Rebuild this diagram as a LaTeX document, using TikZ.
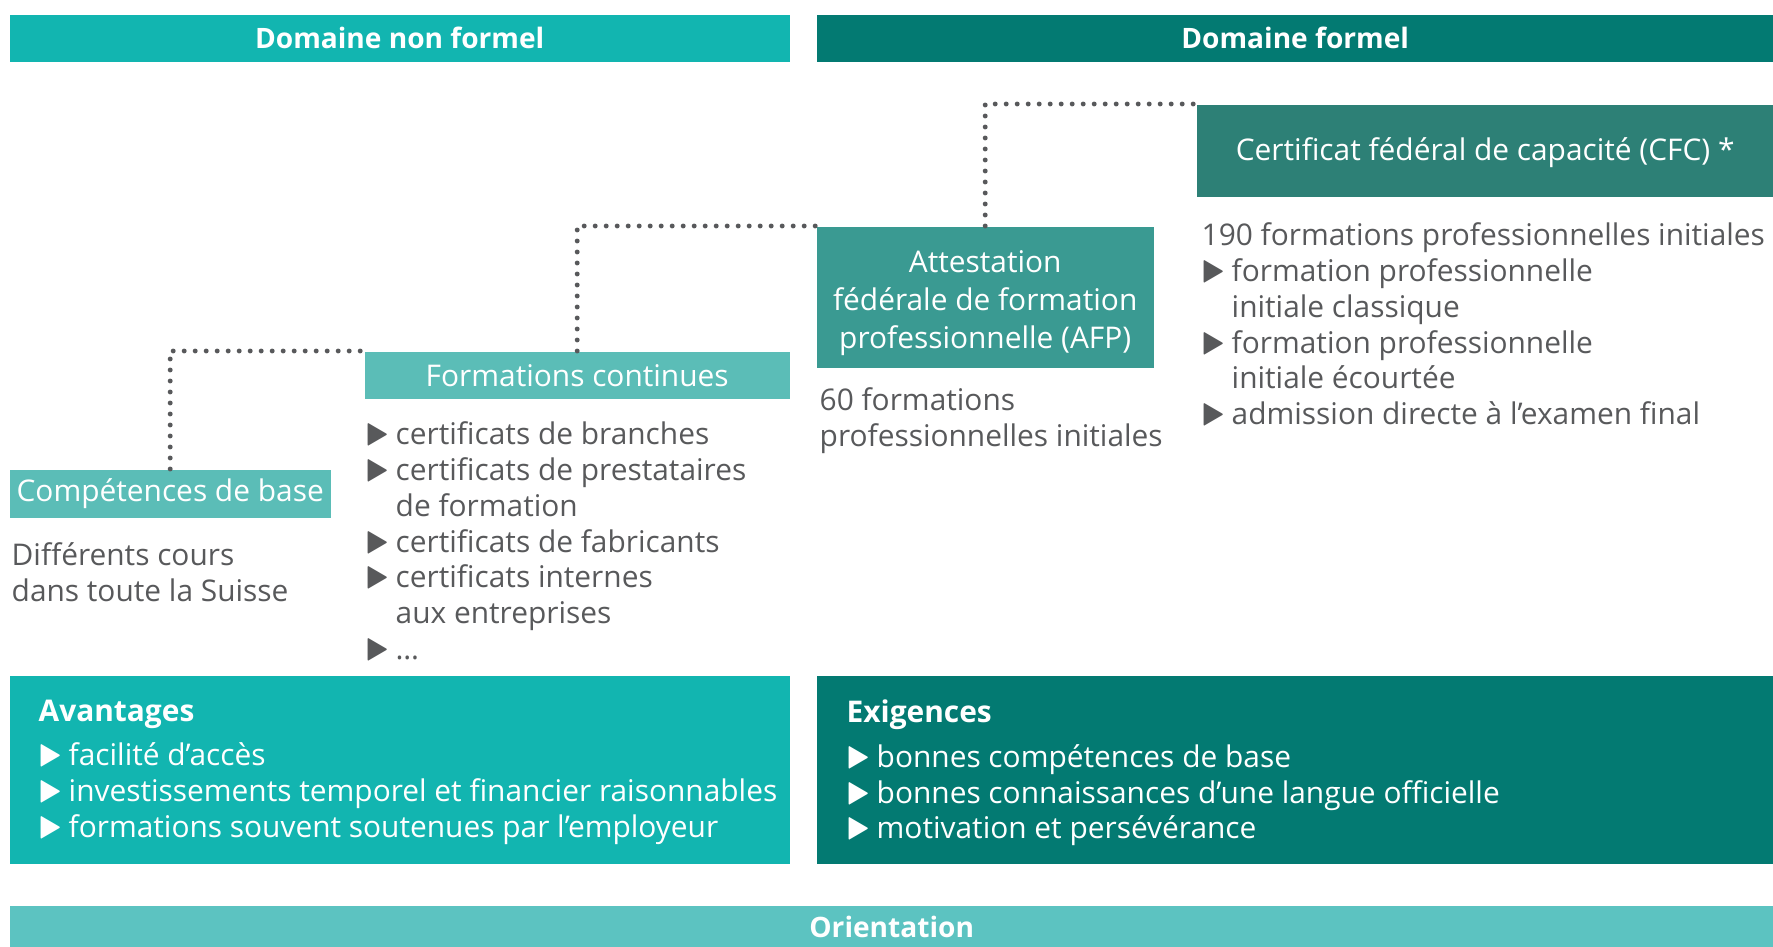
\documentclass[tikz,border=0pt]{standalone}
\usepackage{amssymb}
\usepackage{fontspec}
\setmainfont{Open Sans}
\usetikzlibrary{positioning}

\definecolor{lagoon}{RGB}{18,181,176}
\definecolor{petrol}{RGB}{3,122,114}
\definecolor{cfcgreen}{RGB}{45,128,118}
\definecolor{afpgreen}{RGB}{58,154,146}
\definecolor{mint}{RGB}{91,189,183}
\definecolor{orient}{RGB}{92,195,193}
\definecolor{bodygray}{RGB}{88,89,91}

\newcommand{\puce}{\makebox[3mm][l]{\scalebox{1.05}[1.3]{$\blacktriangleright$}}}
\newcommand{\suite}{\hspace*{3mm}}

\begin{document}
\begin{tikzpicture}[
  x=0.1mm, y=-0.1mm,
  txt/.style={font=\fontsize{8.5pt}{10.2pt}\selectfont},
  bold/.style={font=\fontsize{8pt}{10.2pt}\selectfont\bfseries},
  band/.style={
    rectangle, inner sep=0, anchor=north west,
    text=white, bold,
    minimum height=4.7mm
  },
  panel/.style={
    rectangle, inner sep=0, anchor=north west,
    text=white, txt, align=center
  },
  infobox/.style={
    rectangle, inner sep=0, anchor=north west,
    minimum height=18.8mm
  },
  plain/.style={
    inner sep=0, anchor=north west,
    text=bodygray, txt, align=left
  },
  dotlink/.style={
    draw=bodygray, line width=1.4pt, line cap=round,
    dash pattern=on 0pt off 1.1mm
  }
]

\useasboundingbox (0,0) rectangle (1773,947);

% =====================================================
% DOMAINS
% =====================================================

\node[band, fill=lagoon, minimum width=78mm] (nonformel) at (9,14)
{Domaine non formel};

\node[band, fill=petrol, minimum width=95.7mm] (formel) at (816,14)
{Domaine formel};

% =====================================================
% QUALIFICATIONS
% =====================================================

\node[panel, fill=cfcgreen, minimum width=57.7mm, minimum height=9.2mm] (cfc) at (1196,104)
{\rule{0pt}{2.6mm}Certificat fédéral de capacité (CFC) *};

\node[panel, fill=afpgreen, minimum width=33.7mm, minimum height=14.1mm,
      font=\fontsize{8.5pt}{10.8pt}\selectfont] (afp) at (816,226)
{\rule{0pt}{3.4mm}Attestation\\fédérale de formation\\professionnelle (AFP)};

\node[panel, fill=mint, minimum width=42.5mm, minimum height=4.7mm] (fc) at (364,351)
{Formations continues};

\node[panel, fill=mint, minimum width=32.1mm, minimum height=4.8mm] (cb) at (9,469)
{Compétences de base};

% dotted steps
\draw[dotlink] (cb.north) |- (fc.north west);
\draw[dotlink] (fc.north) |- (afp.north west);
\draw[dotlink] (afp.north) |- (cfc.north west);

% =====================================================
% DETAILS
% =====================================================

\node[plain] (cfcinfo) at (1201,222)
{190 formations professionnelles initiales\\
\puce formation professionnelle\\
\suite initiale classique\\
\puce formation professionnelle\\
\suite initiale écourtée\\
\puce admission directe à l’examen final};

\node[plain] (afpinfo) at (819,387)
{60 formations\\professionnelles initiales};

\node[plain] (fcinfo) at (365,421)
{\puce certificats de branches\\
\puce certificats de prestataires\\
\suite de formation\\
\puce certificats de fabricants\\
\puce certificats internes\\
\suite aux entreprises\\
\puce \dots};

\node[plain] (cbinfo) at (11,542)
{Différents cours\\dans toute la Suisse};

% =====================================================
% ADVANTAGES / REQUIREMENTS
% =====================================================

\node[infobox, fill=lagoon, minimum width=78mm] (avantages) at (9,675) {};
\node[plain, text=white] (avantagestxt) at (38,699)
{\textbf{Avantages}\\[0.9mm]
\puce facilité d’accès\\
\puce investissements temporel et financier raisonnables\\
\puce formations souvent soutenues par l’employeur};

\node[infobox, fill=petrol, minimum width=95.7mm] (exigences) at (816,675) {};
\node[plain, text=white] (exigencestxt) at (846,699)
{\textbf{Exigences}\\[0.9mm]
\puce bonnes compétences de base\\
\puce bonnes connaissances d’une langue officielle\\
\puce motivation et persévérance};

\node[band, fill=orient, minimum width=176.4mm, minimum height=4.2mm] (orientation) at (9,905)
{Orientation};

\end{tikzpicture}
\end{document}
